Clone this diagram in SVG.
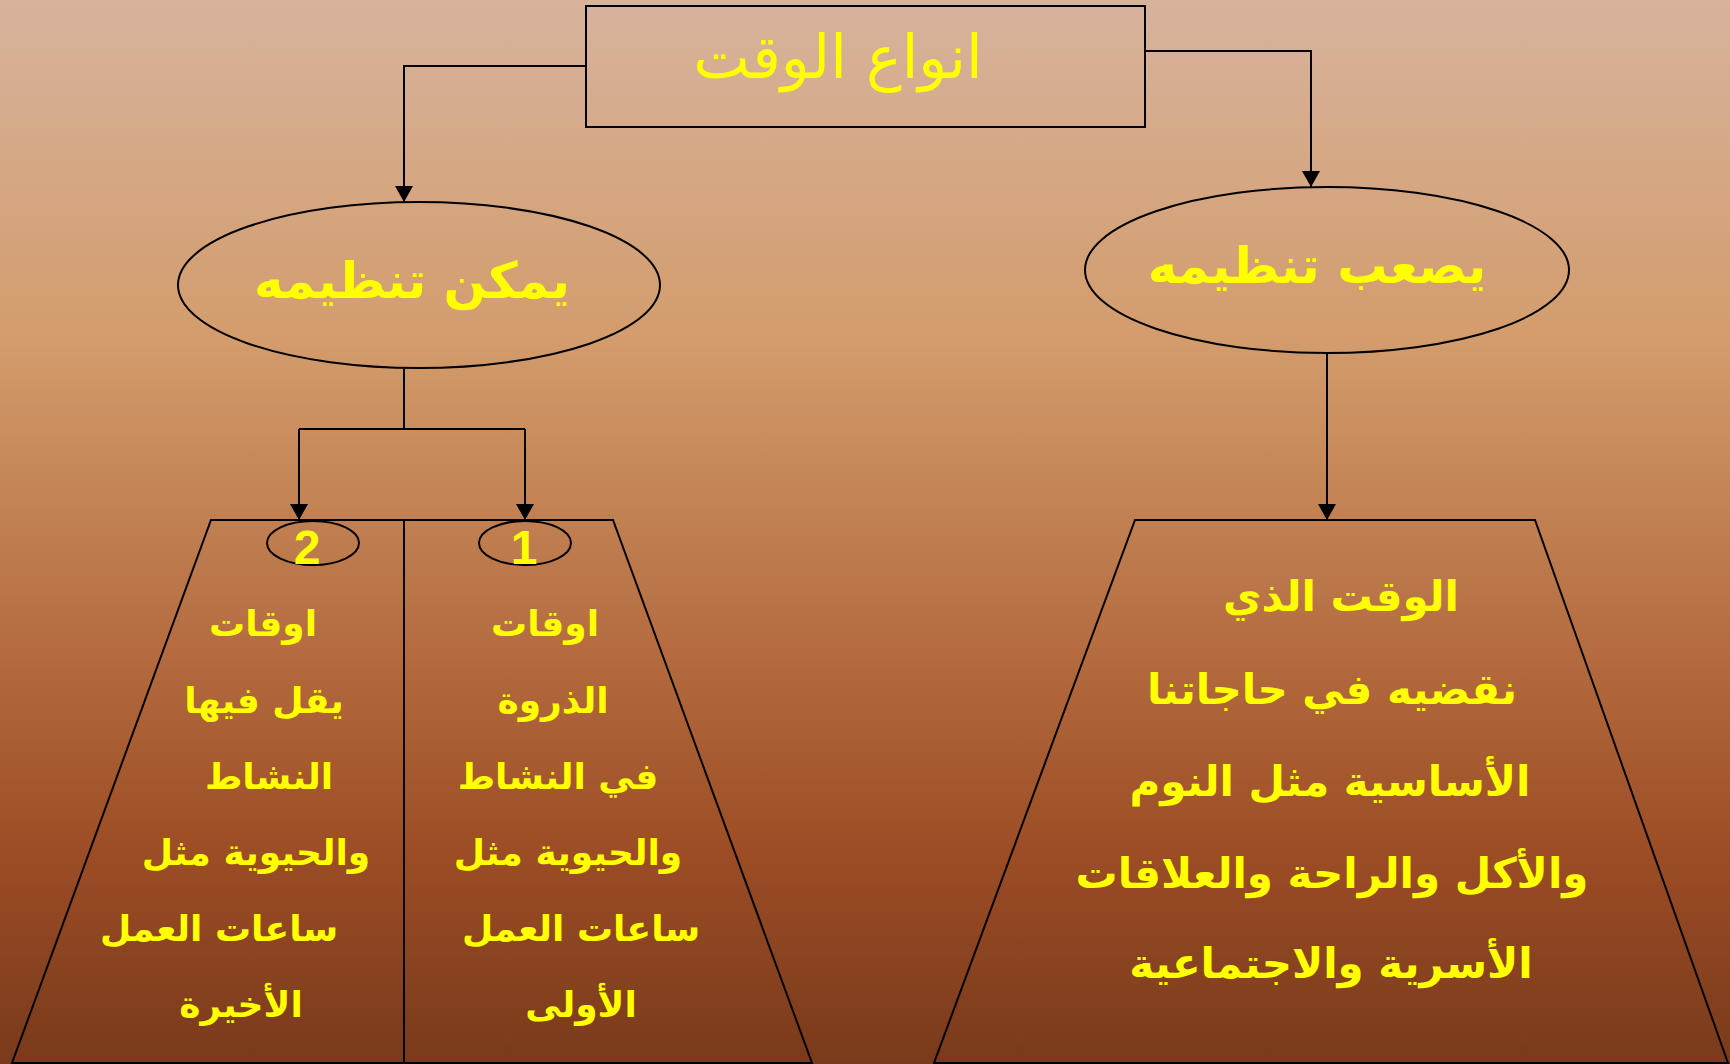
<svg xmlns="http://www.w3.org/2000/svg" width="1730" height="1064" viewBox="0 0 1730 1064">
<defs>
<linearGradient id="bg" x1="0" y1="0" x2="0" y2="1">
<stop offset="0" stop-color="#D7B39C"/>
<stop offset="0.32" stop-color="#D39C6C"/>
<stop offset="0.62" stop-color="#B36A3E"/>
<stop offset="0.8" stop-color="#9C4D25"/>
<stop offset="1" stop-color="#793A1B"/>
</linearGradient>
<marker id="arr" viewBox="0 0 16 18" refX="16" refY="9" markerWidth="16" markerHeight="18" markerUnits="userSpaceOnUse" orient="auto">
<path d="M0,0 L16,9 L0,18 Z" fill="#000"/>
</marker>
</defs>
<style>
.ln{fill:none;stroke:#000;stroke-width:2}
.sh{fill:none;stroke:#000;stroke-width:2}
.t{fill:#FFFF00;font-family:"DejaVu Sans",sans-serif;font-weight:bold;text-anchor:middle}
.title{fill:#FFFF00;font-family:"DejaVu Sans",sans-serif;font-size:60px;text-anchor:middle}
.e{font-size:50px}
.c{font-size:36px}
.r{font-size:42px}
.n{font-family:"Liberation Sans",Arial,sans-serif;font-size:48px}
</style>
<rect width="1730" height="1064" fill="url(#bg)"/>
<g id="connectors">
<polyline class="ln" points="586,66 404,66 404,202" marker-end="url(#arr)"/>
<polyline class="ln" points="1145,51 1311,51 1311,187" marker-end="url(#arr)"/>
<polyline class="ln" points="404,369 404,429"/>
<polyline class="ln" points="299,429 525,429"/>
<polyline class="ln" points="299,429 299,520" marker-end="url(#arr)"/>
<polyline class="ln" points="525,429 525,520" marker-end="url(#arr)"/>
<polyline class="ln" points="1327,353 1327,520" marker-end="url(#arr)"/>
</g>
<g id="title">
<rect class="sh" x="586" y="6" width="559" height="121" stroke-width="3"/>
<text class="title" x="838" y="78">انواع الوقت</text>
</g>
<g id="can-organize">
<ellipse class="sh" cx="419" cy="285" rx="241" ry="83"/>
<text class="t e" x="412" y="298">يمكن تنظيمه</text>
</g>
<g id="hard-organize">
<ellipse class="sh" cx="1327" cy="270" rx="242" ry="83"/>
<text class="t e" x="1317" y="283">يصعب تنظيمه</text>
</g>
<g id="left-box">
<polygon class="sh" points="211,520 613,520 812,1063 12,1063"/>
<line class="ln" x1="404" y1="520" x2="404" y2="1064"/>
</g>
<g id="item-1">
<ellipse class="sh" cx="525" cy="543" rx="46" ry="22"/>
<text class="t n" x="524" y="564">1</text>
<text class="t c" x="545" y="636">اوقات</text>
<text class="t c" x="553" y="713">الذروة</text>
<text class="t c" x="558" y="789">في النشاط</text>
<text class="t c" x="568" y="865">والحيوية مثل</text>
<text class="t c" x="581" y="941">ساعات العمل</text>
<text class="t c" x="581" y="1017">الأولى</text>
</g>
<g id="item-2">
<ellipse class="sh" cx="313" cy="543" rx="46" ry="22"/>
<text class="t n" x="307" y="564">2</text>
<text class="t c" x="263" y="636">اوقات</text>
<text class="t c" x="264" y="713">يقل فيها</text>
<text class="t c" x="269" y="789">النشاط</text>
<text class="t c" x="256" y="865">والحيوية مثل</text>
<text class="t c" x="219" y="941">ساعات العمل</text>
<text class="t c" x="241" y="1017">الأخيرة</text>
</g>
<g id="right-box">
<polygon class="sh" points="1135,520 1535,520 1728,1063 934,1063"/>
<text class="t r" x="1341" y="611">الوقت الذي</text>
<text class="t r" x="1332" y="704">نقضيه في حاجاتنا</text>
<text class="t r" x="1330" y="796">الأساسية مثل النوم</text>
<text class="t r" x="1332" y="888">والأكل والراحة والعلاقات</text>
<text class="t r" x="1331" y="978">الأسرية والاجتماعية</text>
</g>
</svg>
